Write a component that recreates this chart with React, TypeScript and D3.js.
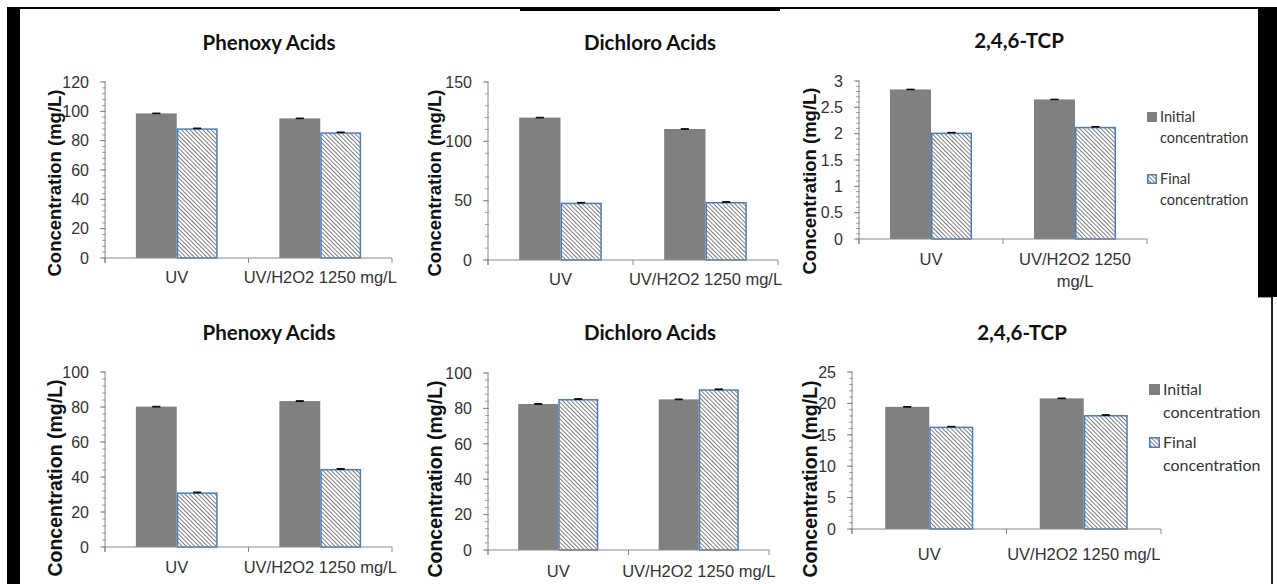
import React from "react";
import * as d3 from "d3";

// Categories and series shared by all six panels
const categories = ["UV", "UV/H2O2 1250 mg/L"];
const seriesNames = ["Initial concentration", "Final concentration"];
const legendLines = [["Initial", "concentration"], ["Final", "concentration"]];

// Panel titles
const titles = ["Phenoxy Acids", "Dichloro Acids", "2,4,6-TCP", "Phenoxy Acids", "Dichloro Acids", "2,4,6-TCP"];
const yAxisTitle = "Concentration (mg/L)";

// Measured concentrations (mg/L), top row
const phenoxyTopInitial = [98.6, 95.2];
const phenoxyTopFinal = [88.4, 85.7];
const dichloroTopInitial = [120.0, 110.4];
const dichloroTopFinal = [48.3, 48.9];
const tcpTopInitial = [2.84, 2.65];
const tcpTopFinal = [2.02, 2.13];

// Measured concentrations (mg/L), bottom row
const phenoxyBottomInitial = [80.2, 83.4];
const phenoxyBottomFinal = [31.2, 44.6];
const dichloroBottomInitial = [82.5, 85.1];
const dichloroBottomFinal = [85.3, 90.8];
const tcpBottomInitial = [19.45, 20.8];
const tcpBottomFinal = [16.3, 18.15];

// Standard deviations (error bars)
const phenoxyTopErr = [0.2, 0.2];
const dichloroTopErr = [0.25, 0.25];
const tcpTopErr = [0.005, 0.005];
const phenoxyBottomErr = [0.2, 0.2];
const dichloroBottomErr = [0.2, 0.2];
const tcpBottomErr = [0.05, 0.05];

// Y axis ranges: max and major step
const yMaxes = [120, 150, 3, 100, 100, 25];
const yMajor = [20, 50, 0.5, 20, 20, 5];

type Panel = {
  title: string;
  initial: number[];
  final: number[];
  err: number[];
  yMax: number;
  major: number;
  x0: number;
  x1: number;
  y0: number;
  y1: number;
  titleX: number;
  titleY: number;
  yTitleX: number;
  yTitleY: number;
  yTitleSize: number;
  catDy: number;
  wrap: boolean;
  legend?: { x: number; y: number; size: number; font: number; lineGap: number; itemGap: number };
};

const panels: Panel[] = [
  { title: titles[0], initial: phenoxyTopInitial, final: phenoxyTopFinal, err: phenoxyTopErr, yMax: yMaxes[0], major: yMajor[0],
    x0: 105, x1: 392, y0: 258, y1: 82, titleX: 269, titleY: 50, yTitleX: 55, yTitleY: 183, yTitleSize: 18.5, catDy: 25, wrap: false },
  { title: titles[1], initial: dichloroTopInitial, final: dichloroTopFinal, err: dichloroTopErr, yMax: yMaxes[1], major: yMajor[1],
    x0: 488, x1: 778, y0: 260, y1: 82, titleX: 650, titleY: 50, yTitleX: 435, yTitleY: 183, yTitleSize: 18.5, catDy: 25, wrap: false },
  { title: titles[2], initial: tcpTopInitial, final: tcpTopFinal, err: tcpTopErr, yMax: yMaxes[2], major: yMajor[2],
    x0: 859, x1: 1147, y0: 239, y1: 81, titleX: 1019, titleY: 48, yTitleX: 810, yTitleY: 181, yTitleSize: 18.5, catDy: 26, wrap: true,
    legend: { x: 1147, y: 122, size: 10, font: 14.5, lineGap: 21, itemGap: 62 } },
  { title: titles[3], initial: phenoxyBottomInitial, final: phenoxyBottomFinal, err: phenoxyBottomErr, yMax: yMaxes[3], major: yMajor[3],
    x0: 105, x1: 392, y0: 547, y1: 372, titleX: 269, titleY: 340, yTitleX: 55, yTitleY: 478, yTitleSize: 19.5, catDy: 26, wrap: false },
  { title: titles[4], initial: dichloroBottomInitial, final: dichloroBottomFinal, err: dichloroBottomErr, yMax: yMaxes[4], major: yMajor[4],
    x0: 488, x1: 769, y0: 550, y1: 373, titleX: 650, titleY: 340, yTitleX: 435, yTitleY: 479, yTitleSize: 19.5, catDy: 27, wrap: false },
  { title: titles[5], initial: tcpBottomInitial, final: tcpBottomFinal, err: tcpBottomErr, yMax: yMaxes[5], major: yMajor[5],
    x0: 852, x1: 1161, y0: 529, y1: 372, titleX: 1022, titleY: 340, yTitleX: 810, yTitleY: 479, yTitleSize: 19.5, catDy: 31, wrap: false,
    legend: { x: 1149, y: 395, size: 11, font: 16, lineGap: 23, itemGap: 53 } },
];

const AXIS = "#898989";
const BAR_GRAY = "#808080";
const BLUE = "#4a7ebb";
const TEXT = "#333";
const SANS = "'Liberation Sans', Arial, sans-serif";
const HEAD = "Lato, 'Open Sans', sans-serif";

function ChartPanel({ p, idx }: { p: Panel; idx: number }) {
  const y = d3.scaleLinear().domain([0, p.yMax]).range([p.y0, p.y1]);
  const x = d3.scaleBand<string>().domain(categories).range([p.x0, p.x1]).paddingInner(0.43).paddingOuter(0.215);
  const xs = d3.scaleBand<string>().domain(seriesNames).range([0, x.bandwidth()]);
  const majorTicks = d3.range(0, p.yMax + p.major / 2, p.major);
  const minorStep = p.major / 5;
  const minorTicks = d3.range(0, p.yMax + minorStep / 2, minorStep);
  const fmt = (v: number) => d3.format("~g")(+v.toFixed(3));
  const boundaries = [p.x0, (p.x0 + p.x1) / 2, p.x1];
  const hatch = `hatch-${idx}`;

  return (
    <g>
      <defs>
        <pattern id={hatch} patternUnits="userSpaceOnUse" width={3} height={3} patternTransform="rotate(-45)">
          <rect width={3} height={3} fill="#fff" />
          <line x1={0.5} x2={0.5} y1={0} y2={3} stroke="#707070" strokeWidth={0.9} />
        </pattern>
      </defs>

      <text x={p.titleX} y={p.titleY} textAnchor="middle" fontFamily={HEAD} fontWeight={700} fontSize={20.5} fill="#111">
        {p.title}
      </text>
      <text
        transform={`translate(${p.yTitleX},${p.yTitleY}) rotate(-90)`}
        textAnchor="middle"
        dy="0.35em"
        fontFamily={SANS}
        fontWeight={700}
        fontSize={p.yTitleSize}
        fill="#111"
      >
        {yAxisTitle}
      </text>

      {/* bars with error bars */}
      {categories.map((c, i) => {
        const vals = [p.initial[i], p.final[i]];
        return vals.map((v, s) => {
          const bx = (x(c) as number) + (xs(seriesNames[s]) as number);
          const bw = xs.bandwidth();
          const top = y(v);
          const cx = bx + bw / 2;
          const e = p.err[i];
          return (
            <g key={`${c}-${s}`}>
              {s === 0 ? (
                <rect x={bx} y={top} width={bw} height={p.y0 - top} fill={BAR_GRAY} />
              ) : (
                <rect x={bx + 0.75} y={top + 0.75} width={bw - 1.5} height={p.y0 - top - 0.75} fill={`url(#${hatch})`} stroke={BLUE} strokeWidth={1.5} />
              )}
              <line x1={cx} x2={cx} y1={y(v + e)} y2={y(v - e)} stroke="#000" strokeWidth={1} />
              <line x1={cx - 4} x2={cx + 4} y1={y(v + e)} y2={y(v + e)} stroke="#000" strokeWidth={1} />
              <line x1={cx - 4} x2={cx + 4} y1={y(v - e)} y2={y(v - e)} stroke="#000" strokeWidth={1} />
            </g>
          );
        });
      })}

      {/* y axis */}
      <line x1={p.x0} x2={p.x0} y1={p.y1} y2={p.y0 + 5} stroke={AXIS} strokeWidth={1} />
      {minorTicks.map((t) => (
        <line key={`mn${t}`} x1={p.x0 - 3} x2={p.x0 + 1} y1={y(t)} y2={y(t)} stroke={AXIS} strokeWidth={0.8} />
      ))}
      {majorTicks.map((t) => (
        <g key={`mj${t}`}>
          <line x1={p.x0 - 5} x2={p.x0} y1={y(t)} y2={y(t)} stroke={AXIS} strokeWidth={1} />
          <text x={p.x0 - 16} y={y(t)} dy="0.36em" textAnchor="end" fontFamily={SANS} fontSize={16} fill={TEXT}>
            {fmt(t)}
          </text>
        </g>
      ))}

      {/* x axis */}
      <line x1={p.x0} x2={p.x1} y1={p.y0} y2={p.y0} stroke={AXIS} strokeWidth={1} />
      {boundaries.map((b, i) => (
        <line key={`xb${i}`} x1={b} x2={b} y1={p.y0} y2={p.y0 + 5} stroke={AXIS} strokeWidth={1} />
      ))}
      {categories.map((c) => {
        const cx = (x(c) as number) + x.bandwidth() / 2;
        const words = c.split(" ");
        const lines = p.wrap && words.length > 1 ? [words.slice(0, -1).join(" "), words[words.length - 1]] : [c];
        return (
          <text key={`cl${c}`} x={cx} y={p.y0 + p.catDy} textAnchor="middle" fontFamily={SANS} fontSize={16.5} fill={TEXT}>
            {lines.map((ln, k) => (
              <tspan key={k} x={cx} dy={k === 0 ? 0 : 22}>
                {ln}
              </tspan>
            ))}
          </text>
        );
      })}

      {/* legend */}
      {p.legend &&
        seriesNames.map((s, k) => {
          const L = p.legend!;
          const ly = L.y + k * L.itemGap;
          return (
            <g key={`lg${s}`}>
              {k === 0 ? (
                <rect x={L.x} y={ly - L.size} width={L.size} height={L.size} fill={BAR_GRAY} />
              ) : (
                <rect x={L.x + 0.75} y={ly - L.size + 0.75} width={L.size - 1.5} height={L.size - 1.5} fill={`url(#${hatch})`} stroke={BLUE} strokeWidth={1.5} />
              )}
              <text x={L.x + L.size + 3} y={ly} fontFamily={HEAD} fontSize={L.font} fill={TEXT}>
                {legendLines[k].map((ln, j) => (
                  <tspan key={j} x={L.x + L.size + 3} dy={j === 0 ? 0 : L.lineGap}>
                    {ln}
                  </tspan>
                ))}
              </text>
            </g>
          );
        })}
    </g>
  );
}

export default function App() {
  return (
    <svg
      width={1277}
      height={584}
      viewBox="0 0 1277 584"
      style={{ position: "absolute", left: 0, top: 0, background: "#fff" }}
    >
      <rect width={1277} height={584} fill="#fff" />
      {/* page frame pieces */}
      <rect x={7} y={7} width={1270} height={2} fill="#000" />
      <rect x={520} y={7} width={260} height={4} fill="#000" />
      <rect x={7} y={7} width={13} height={577} fill="#000" />
      <rect x={1258} y={7} width={19} height={290} fill="#000" />
      <line x1={1258} x2={1273} y1={297.5} y2={297.5} stroke="#999" strokeWidth={1} />
      <rect x={1271} y={297} width={2} height={287} fill="#222" />

      {panels.map((p, i) => (
        <ChartPanel key={i} p={p} idx={i} />
      ))}
    </svg>
  );
}
